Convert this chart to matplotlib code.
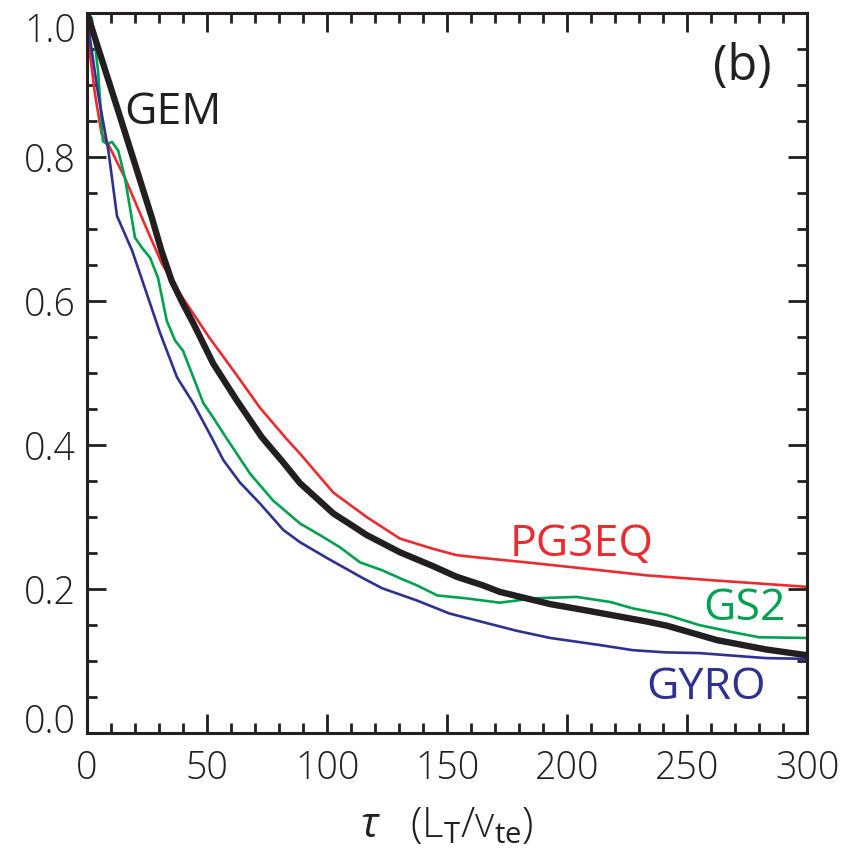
import matplotlib
matplotlib.use("Agg")
import matplotlib.pyplot as plt
from matplotlib.ticker import MultipleLocator

plt.rcParams['font.family'] = ['Open Sans', 'DejaVu Sans']
plt.rcParams['mathtext.fontset'] = 'custom'
plt.rcParams['mathtext.rm'] = 'Open Sans'
plt.rcParams['mathtext.it'] = 'Open Sans:italic'

# ---- data ----
gem_x = [0, 13, 27, 31, 35.3, 40, 44.3, 52.6, 62.4, 72.8, 81.7, 88.75, 95.7, 102.6, 109.6, 116.5, 130.4, 144, 154,
         165, 172, 193, 206.7, 233, 241.7, 262.5, 283, 300]
gem_y = [1.0, 0.864, 0.716, 0.670, 0.628, 0.596, 0.569, 0.513, 0.462, 0.411, 0.376, 0.347, 0.326, 0.305, 0.29, 0.275, 0.251, 0.232, 0.217,
         0.205, 0.196, 0.179, 0.171, 0.155, 0.149, 0.129, 0.116, 0.108]

pg3_x = [0, 0.4, 3.3, 6.1, 8.8, 15.8, 24, 31.2, 38.75, 51, 62.4, 72, 83, 88.75, 102.6, 116.5, 130.4, 144, 154,
         165, 186, 214, 233, 261, 300]
pg3_y = [1.0, 0.965, 0.888, 0.832, 0.818, 0.771, 0.707, 0.652, 0.61, 0.549, 0.497, 0.452, 0.409, 0.388, 0.334, 0.30, 0.27, 0.256, 0.247,
         0.243, 0.236, 0.226, 0.219, 0.212, 0.203]

gs2_x = [0, 2, 4.6, 6.6, 8.3, 10.4, 13, 15.8, 20, 22.9, 26.3, 29.6, 33.2, 36.7, 40, 44.3, 48.5, 52.6, 58.2, 68, 77.5,
         88.75, 97, 105.4, 113.75, 123, 130.4, 137.5, 146, 158, 172, 179, 186, 204, 218, 227.5, 241.5, 255, 269, 280, 300]
gs2_y = [1.0, 0.993, 0.92, 0.822, 0.818, 0.821, 0.809, 0.771, 0.688, 0.674, 0.66, 0.632, 0.573, 0.545, 0.531, 0.494, 0.458, 0.438, 0.409, 0.36, 0.323,
         0.291, 0.275, 0.258, 0.237, 0.226, 0.215, 0.205, 0.191, 0.187, 0.181, 0.184, 0.187, 0.189, 0.182, 0.173, 0.164, 0.15, 0.14, 0.133, 0.132]

gyro_x = [0, 1, 4.6, 8.9, 12.5, 18.8, 24, 30.4, 37.5, 44.3, 52, 56.8, 63.7, 72, 81.8, 88.75, 100, 115, 123, 137.5,
          151, 165, 179, 193, 214, 227.5, 241, 255, 283, 300]
gyro_y = [1.0, 0.97, 0.888, 0.809, 0.718, 0.67, 0.619, 0.556, 0.494, 0.458, 0.41, 0.379, 0.348, 0.319, 0.282, 0.265, 0.243, 0.215, 0.201, 0.184,
          0.166, 0.154, 0.142, 0.132, 0.122, 0.115, 0.112, 0.111, 0.104, 0.103]

labels = ["GEM", "PG3EQ", "GS2", "GYRO"]
label_x = [35.8, 206, 274, 258]
label_y = [0.861, 0.261, 0.173, 0.063]

ytick_vals = [0, 0.2, 0.4, 0.6, 0.8, 1.0]
ytick_labels = ['0.0', '0.2', '0.4', '0.6', '0.8', '1.0']

red = '#ec2b2f'
green = '#00a14f'
blue = '#2e3192'
black = '#231f20'

fig = plt.figure(figsize=(8.42, 8.51), dpi=100)
ax = fig.add_axes([87/842, 1-733/851, 720/842, 720/851])

ax.plot(pg3_x, pg3_y, color=red, lw=1.9)
ax.plot(gs2_x, gs2_y, color=green, lw=1.9)
ax.plot(gyro_x, gyro_y, color=blue, lw=1.9)
ax.plot(gem_x, gem_y, color=black, lw=4.6, solid_capstyle='butt')

ax.set_xlim(0, 300)
ax.set_ylim(0, 1.0)
ax.xaxis.set_major_locator(MultipleLocator(50))
ax.xaxis.set_minor_locator(MultipleLocator(10))
ax.yaxis.set_minor_locator(MultipleLocator(0.05))
ax.set_yticks(ytick_vals)
ax.set_yticklabels(ytick_labels)

ax.tick_params(which='both', direction='in', top=True, right=True, width=2, color=black)
ax.tick_params(which='major', length=14, labelsize=27, labelcolor=black)
ax.tick_params(which='minor', length=7)
ax.tick_params(axis='x', which='major', pad=12)
ax.tick_params(axis='y', which='major', pad=8)
for lab in ax.get_xticklabels() + ax.get_yticklabels():
    lab.set_fontweight('light')
ylabs = ax.get_yticklabels()
ylabs[0].set_va('baseline')
ylabs[-1].set_va('top')
for s in ax.spines.values():
    s.set_linewidth(2.2)
    s.set_color(black)

ax.set_xlabel(r'$\tau$   (L$_\mathrm{T}$/v$_\mathrm{te}$)', fontsize=30, color=black, labelpad=12,
              fontweight='light')

cols = [black, red, green, blue]
for t, x, y, c in zip(labels, label_x, label_y, cols):
    ax.text(x, y, t, color=c, fontsize=32, ha='center', va='center')
ax.text(273, 0.924, '(b)', color=black, fontsize=35, ha='center', va='center')

fig.savefig('out.png', dpi=100)
